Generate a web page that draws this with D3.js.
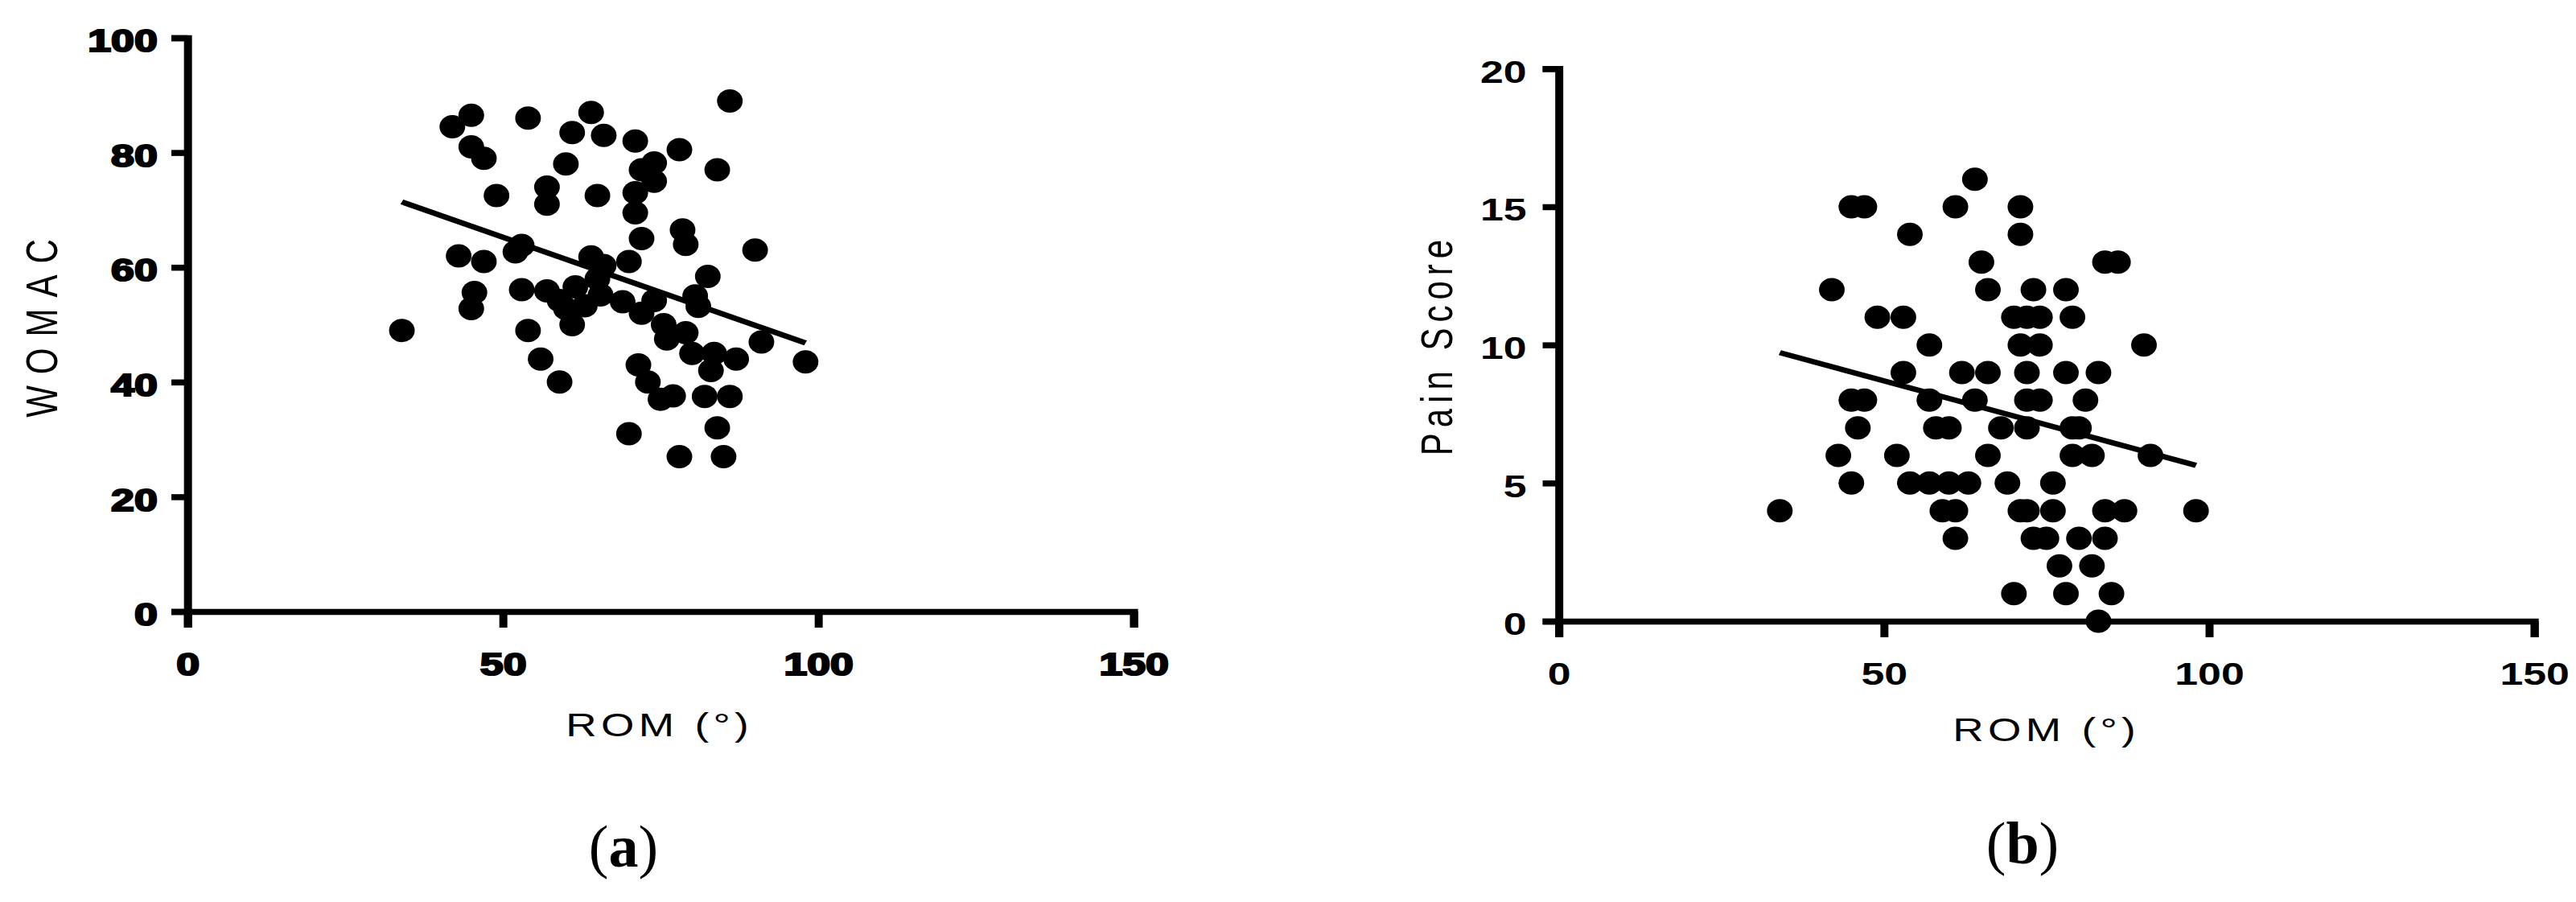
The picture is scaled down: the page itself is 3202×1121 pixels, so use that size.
<!DOCTYPE html>
<html lang="en">
<head>
  <meta charset="UTF-8" />
  <title>ROM vs WOMAC and Pain Score</title>
  <style>
    body {
      margin: 0;
      background: #fff;
    }
    svg {
      display: block;
    }
    .axis path,
    .axis line {
      stroke: #000;
      stroke-width: 7.5px;
    }
    .axis text {
      font-family: 'Liberation Sans', Arial, sans-serif;
      font-weight: bold;
      font-size: 39px;
      fill: #000;
    }
    .axis.heavy text {
      stroke: #000;
      stroke-width: 2.2px;
    }
    .title {
      font-family: 'Liberation Sans', Arial, sans-serif;
      fill: #000;
    }
    .tag {
      font-family: 'Liberation Serif', 'Times New Roman', serif;
      font-size: 74px;
      fill: #000;
    }
  </style>
</head>
<body>
  <svg id="chart"></svg>

  <script src="https://d3js.org/d3.v7.min.js"></script>
  <script>
    const W = 3202, H = 1121;
    // the source figure is stretched sideways, so the plots are drawn in a squeezed frame
    const SX = 1.33;

    const romTicks = [0, 50, 100, 150];
    const womacTicks = [0, 20, 40, 60, 80, 100];
    const painTicks = [0, 5, 10, 15, 20];

    // (a) ROM vs WOMAC
    const womacRom = [86, 45, 42, 54, 64, 61, 66, 71, 78, 45,
      47, 60, 74, 72, 84, 74, 57, 71, 49, 65,
      57, 71, 72, 78.5, 79, 90, 43, 47, 52, 53,
      64, 66, 70, 82.5, 80.5, 81, 45.5, 45, 53, 57,
      59, 60, 61.5, 63, 65, 65.5, 69, 72, 74, 34,
      54, 61, 75.5, 79, 76, 91, 80, 83.5, 87, 98,
      56, 71.5, 73, 83, 59, 75, 77, 82, 86, 70,
      84, 78, 85];
    const womacScore = [89, 86.5, 84.5, 86, 87, 83.5, 83, 82, 80.5, 81,
      79, 78, 78.2, 77, 77, 75, 74, 73, 72.5, 72.5,
      71, 69.5, 65, 66.5, 64, 63, 62, 61, 62.7, 63.8,
      61.8, 60.3, 61, 58.4, 55, 53.2, 55.6, 52.8, 56.1, 55.9,
      54.2, 52.8, 56.6, 53.3, 58, 55.2, 54, 52, 54.2, 49,
      49, 50, 50, 48.6, 47.5, 47, 45, 45, 44, 43.5,
      44, 43, 40, 42, 40, 37, 37.6, 37.5, 37.5, 31,
      32, 27, 27];
    const womacFitRom = [34, 98];
    const womacFitScore = [71.4, 46.8];

    // (b) ROM vs pain score
    const painRom = [64,
      45, 47, 61, 71,
      54, 71,
      65, 84, 86,
      42, 66, 73, 78,
      49, 53, 70, 72, 74, 79,
      57, 71, 74, 90,
      53, 62, 66, 72, 78, 83,
      45, 47, 57, 64, 72, 74, 81,
      46, 58, 60, 68, 72, 79, 80,
      43, 52, 66, 79, 82, 91,
      45, 54, 57, 60, 63, 69, 76,
      34, 59, 61, 71, 72, 76, 84, 87, 98,
      61, 73, 75, 80, 84,
      77, 82,
      70, 78, 85,
      83];
    const painScore = [16,
      15, 15, 15, 15,
      14, 14,
      13, 13, 13,
      12, 12, 12, 12,
      11, 11, 11, 11, 11, 11,
      10, 10, 10, 10,
      9, 9, 9, 9, 9, 9,
      8, 8, 8, 8, 8, 8, 8,
      7, 7, 7, 7, 7, 7, 7,
      6, 6, 6, 6, 6, 6,
      5, 5, 5, 5, 5, 5, 5,
      4, 4, 4, 4, 4, 4, 4, 4, 4,
      3, 3, 3, 3, 3,
      2, 2,
      1, 1, 1,
      0];
    const painFitRom = [34, 98];
    const painFitScore = [9.72, 5.64];

    const svg = d3.select("#chart")
      .attr("width", W)
      .attr("height", H);

    svg.append("rect")
      .attr("width", W)
      .attr("height", H)
      .attr("fill", "#fff");

    const plot = svg.append("g").attr("transform", `scale(${SX},1)`);

    function drawPanel(cfg) {
      const x = d3.scaleLinear().domain([0, 150]).range(cfg.xRange);
      const y = d3.scaleLinear().domain(cfg.yDomain).range(cfg.yRange);
      const g = plot.append("g");

      g.append("g")
        .attr("class", "axis " + cfg.weight)
        .attr("transform", `translate(0,${cfg.yRange[0]})`)
        .call(d3.axisBottom(x).tickValues(romTicks).tickSize(20).tickPadding(31));

      g.append("g")
        .attr("class", "axis " + cfg.weight)
        .attr("transform", `translate(${cfg.xRange[0]},0)`)
        .call(d3.axisLeft(y).tickValues(cfg.yTicks).tickSize(15).tickPadding(cfg.yPad))
        .selectAll("text")
        .attr("dy", "0.43em");

      // fitted line
      g.append("path")
        .datum(d3.zip(cfg.fitX, cfg.fitY))
        .attr("fill", "none")
        .attr("stroke", "#000")
        .attr("stroke-width", 6.5)
        .attr("d", d3.line().x(d => x(d[0])).y(d => y(d[1])));

      g.selectAll(".dot")
        .data(d3.zip(cfg.xs, cfg.ys))
        .join("ellipse")
        .attr("class", "dot")
        .attr("cx", d => x(d[0]))
        .attr("cy", d => y(d[1]))
        .attr("rx", 12)
        .attr("ry", 14.5)
        .attr("fill", "#000");

      g.append("text")
        .attr("class", "title")
        .attr("x", cfg.xLabelX)
        .attr("y", cfg.xLabelY)
        .attr("dx", 2)
        .attr("text-anchor", "middle")
        .style("font-size", "40px")
        .style("letter-spacing", "4px")
        .text("ROM (°)");

      g.append("text")
        .attr("class", "title")
        .attr("transform", `translate(${cfg.yLabelX},${cfg.yLabelY}) rotate(-90)`)
        .attr("dx", cfg.yLabelGap / 2)
        .attr("text-anchor", "middle")
        .style("font-size", cfg.yLabelSize + "px")
        .style("letter-spacing", cfg.yLabelGap + "px")
        .text(cfg.yLabel);

      const tag = svg.append("text")
        .attr("class", "tag")
        .attr("x", cfg.tagX)
        .attr("y", cfg.tagY)
        .attr("text-anchor", "middle");
      tag.append("tspan").text("(");
      tag.append("tspan").attr("font-weight", "bold").text(cfg.tag);
      tag.append("tspan").text(")");
    }

    drawPanel({
      xs: womacRom, ys: womacScore,
      fitX: womacFitRom, fitY: womacFitScore,
      yDomain: [0, 100], yTicks: womacTicks,
      xRange: [233 / SX, 1409 / SX], yRange: [760, 47],
      yPad: 13, weight: "heavy",
      yLabel: "WOMAC", yLabelX: 71 / SX, yLabelY: 408, yLabelSize: 42, yLabelGap: 14,
      xLabelX: 817 / SX, xLabelY: 915,
      tag: "a", tagX: 775, tagY: 1077
    });

    drawPanel({
      xs: painRom, ys: painScore,
      fitX: painFitRom, fitY: painFitScore,
      yDomain: [0, 20], yTicks: painTicks,
      xRange: [1937.5 / SX, 3150 / SX], yRange: [772, 85.3],
      yPad: 15, weight: "",
      yLabel: "Pain Score", yLabelX: 1805 / SX, yLabelY: 432, yLabelSize: 42, yLabelGap: 7,
      xLabelX: 2541 / SX, xLabelY: 921,
      tag: "b", tagX: 2514, tagY: 1073
    });
  </script>
</body>
</html>
